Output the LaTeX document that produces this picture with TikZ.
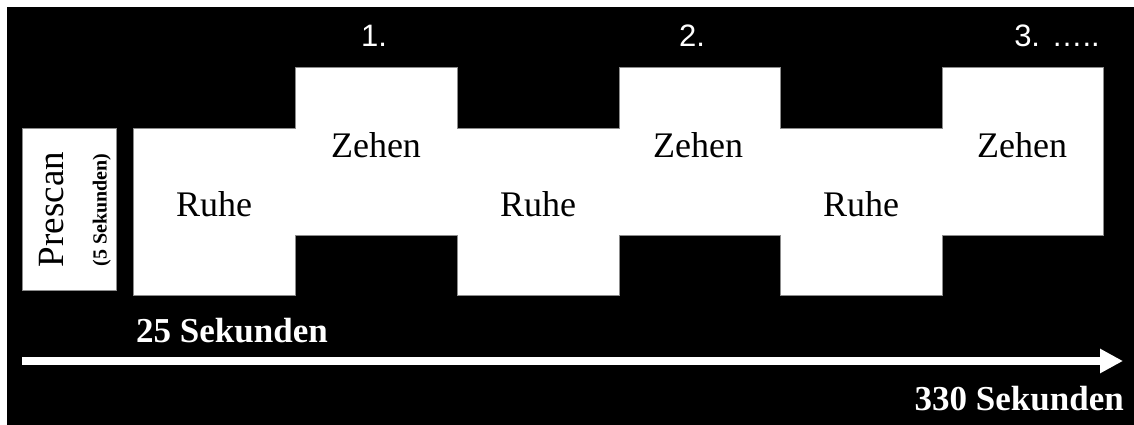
\documentclass[tikz,border=0pt]{standalone}
\usepackage{fontspec}
\setmainfont{Liberation Serif}
\newfontfamily\arialfont{Liberation Sans}
\usetikzlibrary{arrows.meta}

\begin{document}
\begin{tikzpicture}[x=1pt, y=-1pt,
  label/.style={inner sep=0pt, anchor=base, font=\fontsize{36}{40}\selectfont},
  number/.style={inner sep=0pt, anchor=base, text=white, font=\arialfont\fontsize{31}{36}\selectfont},
  duration/.style={inner sep=0pt, text=white, font=\bfseries\fontsize{35}{40}\selectfont},
  blockedge/.style={fill=white, draw=black!45, line width=1pt},
  timeline/.style={draw=white, line width=8pt, -{Triangle[length=23pt, width=23pt]}}]

  % page and dark panel
  \fill[white] (0,0) rectangle (1134,425);
  \useasboundingbox (0,0) rectangle (1134,425);
  \fill[black] (7,7) rectangle (1134,425);

  % prescan block
  \draw[blockedge] (22,128) rectangle (116,290);
  \node[label, rotate=90, font=\fontsize{37}{40}\selectfont] (prescan) at (63,209.5) {Prescan};
  \node[inner sep=0pt, anchor=base, rotate=90, font=\bfseries\fontsize{20}{24}\selectfont] (prelen) at (106.5,210) {(5 Sekunden)};

  % alternating rest / toe blocks as one stepped outline
  \draw[blockedge]
    (133,128) -- (295,128) -- (295,68) -- (457,68) -- (457,128) -- (619,128)
    -- (619,68) -- (780,68) -- (780,128) -- (942,128) -- (942,68) -- (1103,68)
    -- (1103,235) -- (942,235) -- (942,295) -- (780,295) -- (780,235)
    -- (619,235) -- (619,295) -- (457,295) -- (457,235) -- (295,235)
    -- (295,295) -- (133,295) -- cycle;

  \node[label] (ruhe1) at (214,216) {Ruhe};
  \node[label] (ruhe2) at (538,216) {Ruhe};
  \node[label] (ruhe3) at (861,216) {Ruhe};
  \node[label] (zehen1) at (376,157) {Zehen};
  \node[label] (zehen2) at (698,157) {Zehen};
  \node[label] (zehen3) at (1022,157) {Zehen};

  % cycle numbers
  \node[number] (n1) at (374,47) {1.};
  \node[number] (n2) at (692,47) {2.};
  \node[number, anchor=base east] (n3) at (1100,47) {3. …..};

  % time axis
  \coordinate (tstart) at (22,361);
  \coordinate (tend) at (1123,361);
  \draw[timeline] (tstart) -- (tend);
  \node[duration, anchor=base west] (t25) at (136,342) {25 Sekunden};
  \node[duration, anchor=base east] (t330) at (1124,410) {330 Sekunden};
\end{tikzpicture}
\end{document}
